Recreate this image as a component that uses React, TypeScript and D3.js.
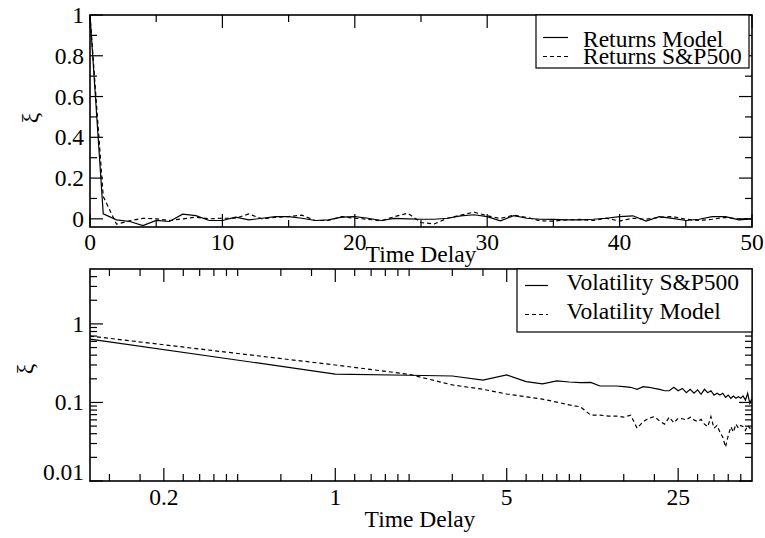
import React from "react";
import * as d3 from "d3";

// ---------- Data ----------
const returnsDelay = d3.range(0, 51);
const returnsModel = [
  1.0, 0.025, -0.005, -0.013, -0.033, -0.008, -0.013, 0.023, 0.016, -0.008,
  -0.008, 0.008, -0.005, 0.003, 0.011, 0.011, 0.003, -0.008, -0.005, 0.008,
  0.011, 0.003, -0.008, 0.002, 0.0, -0.002, -0.002, 0.003, 0.015, 0.02,
  0.011, -0.01, 0.016, 0.003, -0.002, -0.003, -0.005, -0.005, -0.002, 0.003,
  0.011, 0.015, -0.011, 0.011, 0.002, -0.008, -0.002, 0.011, 0.011, -0.005,
  0.0,
];
const returnsSP = [
  1.0, 0.11, -0.026, -0.01, 0.003, 0.0, -0.008, 0.0, 0.008, 0.0,
  0.003, 0.003, 0.024, 0.0, 0.007, 0.011, 0.018, -0.008, -0.008, 0.011,
  0.003, -0.002, -0.01, 0.011, 0.028, -0.018, -0.025, 0.003, 0.018, 0.033,
  0.015, 0.002, 0.018, 0.007, -0.01, -0.011, -0.005, -0.003, -0.008, 0.003,
  -0.011, 0.003, -0.002, 0.007, 0.011, -0.002, -0.008, -0.002, 0.007, 0.0,
  0.0,
];

const volDelay = [0.1, ...d3.range(1, 51)];
const volSP = [
  0.64, 0.23, 0.222, 0.217, 0.193, 0.224, 0.184, 0.172, 0.188, 0.182,
  0.179, 0.18, 0.162, 0.162, 0.162, 0.159, 0.156, 0.147, 0.159, 0.156,
  0.151, 0.147, 0.141, 0.141, 0.156, 0.141, 0.151, 0.133, 0.147, 0.131,
  0.145, 0.127, 0.147, 0.133, 0.141, 0.124, 0.131, 0.124, 0.131, 0.116,
  0.124, 0.113, 0.121, 0.113, 0.118, 0.113, 0.121, 0.107, 0.131, 0.097,
  0.113,
];
const volModel = [
  0.7, 0.3, 0.228, 0.167, 0.147, 0.128, 0.118, 0.11, 0.101, 0.093,
  0.088, 0.069, 0.069, 0.067, 0.067, 0.065, 0.069, 0.047, 0.057, 0.063,
  0.066, 0.058, 0.053, 0.065, 0.055, 0.063, 0.062, 0.06, 0.065, 0.06,
  0.057, 0.061, 0.053, 0.049, 0.066, 0.047, 0.051, 0.042, 0.036, 0.027,
  0.038, 0.049, 0.042, 0.053, 0.047, 0.051, 0.049, 0.044, 0.051, 0.047,
  0.049,
];

const topXMajor = [0, 10, 20, 30, 40, 50];
const topXMinor = [5, 15, 25, 35, 45];
const topYMajor = [0, 0.2, 0.4, 0.6, 0.8, 1];
const topYMinor = [0.1, 0.3, 0.5, 0.7, 0.9];
const topXLabels = ["0", "10", "20", "30", "40", "50"];
const topYLabels = ["0", "0.2", "0.4", "0.6", "0.8", "1"];

const botXMajor = [0.2, 1, 5, 25];
const botXLabels = ["0.2", "1", "5", "25"];
const botXMinor = [0.12, 0.16, 0.24, 0.28, 0.32, 0.36, 0.4, 0.6, 0.8, 1.2, 1.4, 1.6, 1.8, 2, 3, 4, 6, 7, 8, 9, 10, 15, 20, 30, 35, 40, 45];
const botYMajor = [0.01, 0.1, 1];
const botYLabels = ["0.01", "0.1", "1"];
const botYMinor = [0.02, 0.03, 0.04, 0.05, 0.06, 0.07, 0.08, 0.09, 0.2, 0.3, 0.4, 0.5, 0.6, 0.7, 0.8, 0.9, 2, 3, 4];

const legendTop = ["Returns Model", "Returns S&P500"];
const legendBot = ["Volatility S&P500", "Volatility Model"];

// ---------- Layout ----------
const W = 765;
const H = 538;
const FONT = "'Liberation Serif', 'DejaVu Serif', serif";
const FS = 23.5;
const DASH = "4,3";
const MAJ = 13;
const MIN = 7;

const topBox = { x0: 90, x1: 752, y0: 15, y1: 227 };
const botBox = { x0: 90, x1: 752, y0: 269, y1: 481 };

export default function App() {
  const xTop = d3.scaleLinear().domain([0, 50]).range([topBox.x0, topBox.x1]);
  const yTop = d3.scaleLinear().domain([-0.04, 1]).range([topBox.y1, topBox.y0]);
  const xBot = d3.scaleLog().domain([0.1, 50]).range([botBox.x0, botBox.x1]);
  const yBot = d3.scaleLog().domain([0.01, 5]).range([botBox.y1, botBox.y0]);

  const lineTop = (vals: number[]) =>
    d3.line<number>().x((_, i) => xTop(returnsDelay[i])).y((d) => yTop(d))(vals) || "";
  const lineBot = (vals: number[]) =>
    d3.line<number>().x((_, i) => xBot(volDelay[i])).y((d) => yBot(d))(vals) || "";

  const ticks = (
    box: typeof topBox,
    xs: (v: number) => number,
    ys: (v: number) => number,
    xMaj: number[],
    xMin: number[],
    yMaj: number[],
    yMin: number[]
  ) => {
    const els: React.ReactNode[] = [];
    const addX = (arr: number[], len: number, key: string) =>
      arr.forEach((v, i) => {
        const x = xs(v);
        els.push(<line key={`${key}b${i}`} x1={x} x2={x} y1={box.y1} y2={box.y1 - len} />);
        els.push(<line key={`${key}t${i}`} x1={x} x2={x} y1={box.y0} y2={box.y0 + len} />);
      });
    const addY = (arr: number[], len: number, key: string) =>
      arr.forEach((v, i) => {
        const y = ys(v);
        els.push(<line key={`${key}l${i}`} x1={box.x0} x2={box.x0 + len} y1={y} y2={y} />);
        els.push(<line key={`${key}r${i}`} x1={box.x1} x2={box.x1 - len} y1={y} y2={y} />);
      });
    addX(xMaj, MAJ, "xM");
    addX(xMin, MIN, "xm");
    addY(yMaj, MAJ, "yM");
    addY(yMin, MIN, "ym");
    return <g stroke="#000" strokeWidth={1.2}>{els}</g>;
  };

  return (
    <svg width={W} height={H} style={{ display: "block", position: "absolute", left: 0, top: 0 }} fontFamily={FONT}>
      <rect x={0} y={0} width={W} height={H} fill="#fff" />

      {/* ---------- Top panel ---------- */}
      <path d={lineTop(returnsModel)} fill="none" stroke="#000" strokeWidth={1.2} />
      <path d={lineTop(returnsSP)} fill="none" stroke="#000" strokeWidth={1.2} strokeDasharray={DASH} />
      {ticks(topBox, xTop, yTop, topXMajor, topXMinor, topYMajor, topYMinor)}
      <rect x={topBox.x0} y={topBox.y0} width={topBox.x1 - topBox.x0} height={topBox.y1 - topBox.y0} fill="none" stroke="#000" strokeWidth={1.6} />
      <g fontSize={FS} fill="#000">
        {topXMajor.map((v, i) => (
          <text key={i} x={xTop(v)} y={250} textAnchor="middle">{topXLabels[i]}</text>
        ))}
        {topYMajor.map((v, i) => (
          <text key={i} x={84} y={yTop(v) + 8} textAnchor="end">{topYLabels[i]}</text>
        ))}
        <text x={421} y={262} textAnchor="middle">Time Delay</text>
        <text transform="translate(30,118) rotate(-90)" textAnchor="middle" dominantBaseline="central">ξ</text>
      </g>
      {/* legend top */}
      <rect x={536} y={15} width={213} height={53} fill="#fff" stroke="#000" strokeWidth={1.2} />
      <line x1={543} x2={568} y1={37.5} y2={37.5} stroke="#000" strokeWidth={1.2} />
      <line x1={543} x2={568} y1={56.5} y2={56.5} stroke="#000" strokeWidth={1.2} strokeDasharray={DASH} />
      <text x={583} y={46.5} fontSize={FS}>{legendTop[0]}</text>
      <text x={583} y={63.5} fontSize={FS}>{legendTop[1]}</text>

      {/* ---------- Bottom panel ---------- */}
      <path d={lineBot(volSP)} fill="none" stroke="#000" strokeWidth={1.2} />
      <path d={lineBot(volModel)} fill="none" stroke="#000" strokeWidth={1.2} strokeDasharray={DASH} />
      {ticks(botBox, xBot, yBot, botXMajor, botXMinor, botYMajor, botYMinor)}
      <rect x={botBox.x0} y={botBox.y0} width={botBox.x1 - botBox.x0} height={botBox.y1 - botBox.y0} fill="none" stroke="#000" strokeWidth={1.6} />
      <g fontSize={FS} fill="#000">
        {botXMajor.map((v, i) => (
          <text key={i} x={xBot(v)} y={504.5} textAnchor="middle">{botXLabels[i]}</text>
        ))}
        {botYMajor.map((v, i) => (
          <text key={i} x={84} y={Math.min(yBot(v) + 8, 480)} textAnchor="end">{botYLabels[i]}</text>
        ))}
        <text x={420} y={527} textAnchor="middle">Time Delay</text>
        <text transform="translate(25,369) rotate(-90)" textAnchor="middle" dominantBaseline="central">ξ</text>
      </g>
      {/* legend bottom */}
      <rect x={517} y={269} width={235} height={63} fill="#fff" stroke="#000" strokeWidth={1.2} />
      <line x1={525} x2={548} y1={285.5} y2={285.5} stroke="#000" strokeWidth={1.2} />
      <line x1={525} x2={548} y1={314.5} y2={314.5} stroke="#000" strokeWidth={1.2} strokeDasharray={DASH} />
      <text x={566.5} y={290} fontSize={FS}>{legendBot[0]}</text>
      <text x={566.5} y={319} fontSize={FS}>{legendBot[1]}</text>
    </svg>
  );
}
